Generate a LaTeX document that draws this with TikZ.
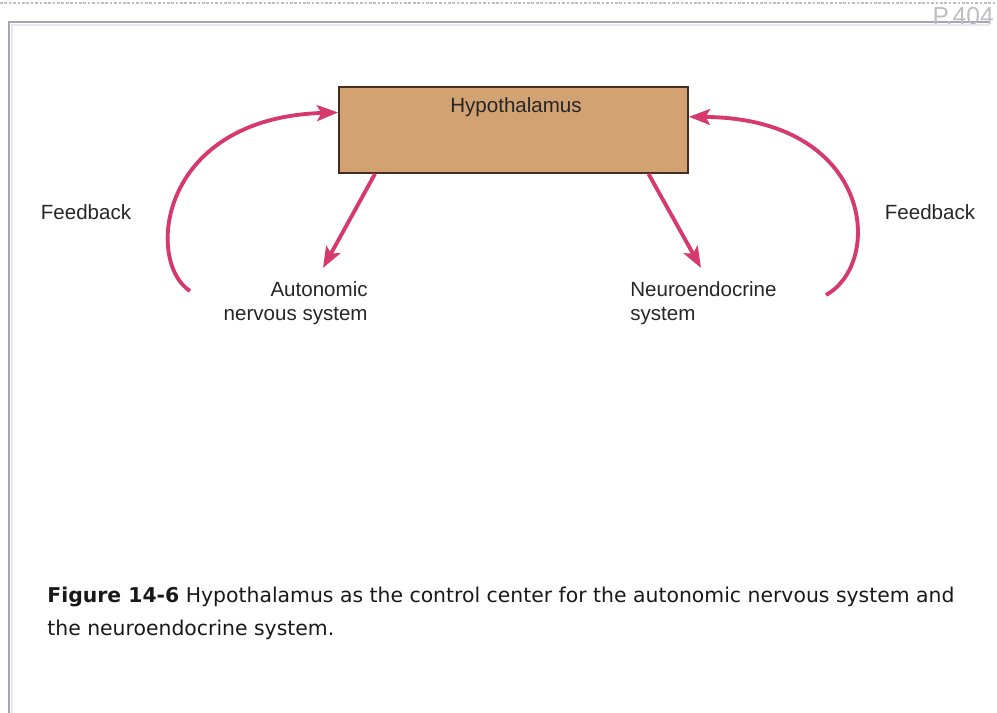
\documentclass[tikz,border=0pt]{standalone}
\usepackage{fontspec}
\setmainfont{Liberation Sans}
\newfontfamily\captionfont{DejaVu Sans}
\usetikzlibrary{arrows.meta}
\usetikzlibrary{calc}

\definecolor{feedpink}{RGB}{214,58,108}
\definecolor{boxtan}{RGB}{211,162,114}
\definecolor{boxedge}{RGB}{70,45,30}
\definecolor{framegray}{RGB}{165,165,172}
\definecolor{framelav}{RGB}{232,230,245}
\definecolor{pagegray}{RGB}{190,190,190}

\begin{document}
\begin{tikzpicture}[x=0.02cm,y=-0.02cm,
    pinkarrow/.style={draw=feedpink,line width=2.2pt,-{Stealth[length=12pt,width=9pt,inset=2.5pt]}},
    diagtext/.style={font=\fontsize{11.7}{13.6}\selectfont,text=black!85,inner sep=0pt}]
  \useasboundingbox (0,0) rectangle (997,713);

  % page frame
  \draw[pagegray,dash pattern=on 1.5pt off 1pt,line width=0.8pt] (0,3) -- (997,3);
  \draw[framelav,line width=1.2pt] (12,713) -- (12,25) -- (990,25);
  \draw[framegray,line width=1.2pt] (9,713) -- (9,22) -- (990,22);
  \node[text=pagegray,anchor=base east,inner sep=0pt,font=\fontsize{14}{16}\selectfont] (page) at (994,25) {P.404};

  % hypothalamus box
  \node[draw=boxedge,fill=boxtan,line width=1pt,minimum width=6.98cm,minimum height=1.72cm,inner sep=0pt] (hyp) at (513.5,130) {};
  \node[diagtext] (hyptext) at (516,107) {Hypothalamus};

  \node[diagtext] (fbL) at (86,212) {Feedback};
  \node[diagtext] (fbR) at (930,212) {Feedback};
  \node[diagtext,align=right,anchor=north east] (ans) at (368,281) {Autonomic\\nervous system};
  \node[diagtext,align=left,anchor=north west] (neuro) at (630,281) {Neuroendocrine\\system};

  \coordinate (ansTip) at (323,268);
  \coordinate (neuroTip) at (701,268);
  \coordinate (fbLstart) at (190,291);
  \coordinate (fbRstart) at (826,295);

  \draw[pinkarrow] ($(hyp.south west)!0.105!(hyp.south east)$) -- (ansTip);
  \draw[pinkarrow] ($(hyp.south west)!0.885!(hyp.south east)$) -- (neuroTip);
  \draw[pinkarrow] (fbLstart) .. controls (145,262) and (158,118) .. ($(hyp.north west)!0.3!(hyp.south west)$);
  \draw[pinkarrow] (fbRstart) .. controls (885,262) and (872,118) .. ($(hyp.north east)!0.35!(hyp.south east)$);

  % caption
  \node[anchor=north west,inner sep=0pt,align=left,text=black!90,font=\captionfont\fontsize{11.6}{18.7}\selectfont] (caption) at (47,587)
    {\textbf{Figure 14-6} Hypothalamus as the control center for the autonomic nervous system and\\the neuroendocrine system.};
\end{tikzpicture}
\end{document}
